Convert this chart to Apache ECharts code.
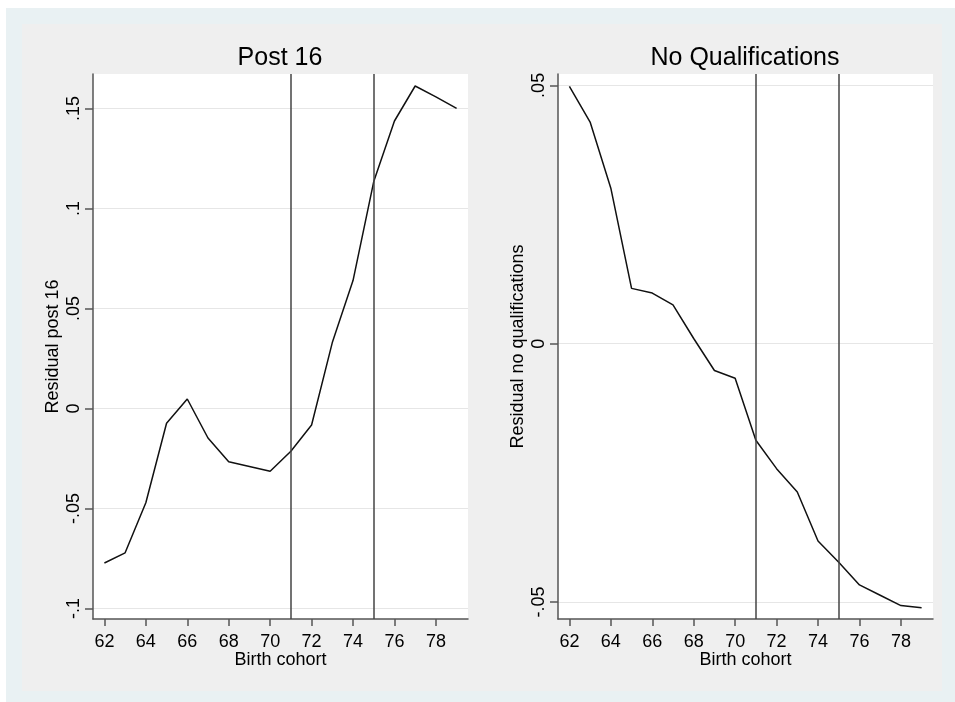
<!doctype html>
<html lang="en">
<head>
<meta charset="UTF-8">
<title>Residual by birth cohort</title>
<script src="https://cdn.jsdelivr.net/npm/echarts@6/dist/echarts.min.js"></script>
<style>
    html, body { margin: 0; padding: 0; background: #fff; }
    /* outer frame + grey graph region */
    #frame { position: absolute; left: 6px; top: 8px; width: 949px; height: 694px; background: #E9F1F3; }
    #panel { position: absolute; left: 22px; top: 24px; width: 920px; height: 667px; background: #EFEFEF; }
    #chart { position: absolute; left: 0; top: 0; width: 955px; height: 702px; }
</style>
</head>
<body>
<div id="frame"></div>
<div id="panel"></div>
<div id="chart"></div>

<script type="text/javascript">
/* data */
const cohorts = [62, 63, 64, 65, 66, 67, 68, 69, 70, 71, 72, 73, 74, 75, 76, 77, 78, 79];
const post16 = [-0.0773, -0.0722, -0.0472, -0.0074, 0.0047, -0.0148, -0.0267, -0.0290, -0.0314,
    -0.0214, -0.0083, 0.0329, 0.0639, 0.1134, 0.1437, 0.1612, 0.1558, 0.1500];
const noQual = [0.0498, 0.0429, 0.0301, 0.0107, 0.0098, 0.0075, 0.0010, -0.0052, -0.0067,
    -0.0187, -0.0242, -0.0287, -0.0382, -0.0423, -0.0467, -0.0487, -0.0507, -0.0511];
const cutoffs = [71, 75];

const xTicks = [62, 64, 66, 68, 70, 72, 74, 76, 78];
const post16Ticks = [-0.1, -0.05, 0, 0.05, 0.1, 0.15];
const post16TickLabels = ['-.1', '-.05', '0', '.05', '.1', '.15'];
const noQualTicks = [-0.05, 0, 0.05];
const noQualTickLabels = ['-.05', '0', '.05'];

const FONT = "'Liberation Sans', Arial, sans-serif";
const AXIS_COLOR = '#555';

let chart = echarts.init(document.getElementById('chart'), null, {renderer: 'canvas'});

function pairs(xs, ys) {
    return xs.map(function (x, i) { return [x, ys[i]]; });
}

function tickLabel(ticks, labels) {
    return function (v) {
        for (let i = 0; i < ticks.length; i++) {
            if (Math.abs(ticks[i] - v) < 1e-9) return labels[i];
        }
        return '';
    };
}

function makeXAxis(idx) {
    return {
        type: 'value',
        gridIndex: idx,
        min: 61.45,
        max: 79.55,
        name: 'Birth cohort',
        nameLocation: 'middle',
        nameGap: 32,
        nameMoveOverlap: false,
        nameTextStyle: {fontSize: 18, color: '#000', fontFamily: FONT},
        axisLine: {show: true, onZero: false, lineStyle: {color: AXIS_COLOR, width: 1.5}},
        axisTick: {show: true, length: 7, customValues: xTicks, lineStyle: {color: AXIS_COLOR, width: 1.5}},
        axisLabel: {customValues: xTicks, fontSize: 18, color: '#000', fontFamily: FONT, margin: 14},
        splitLine: {show: false}
    };
}

function makeYAxis(idx, name, min, max, ticks, labels) {
    return {
        type: 'value',
        gridIndex: idx,
        min: min,
        max: max,
        name: name,
        nameLocation: 'middle',
        nameGap: 31,
        nameMoveOverlap: false,
        nameTextStyle: {fontSize: 18, color: '#000', fontFamily: FONT},
        axisLine: {show: true, onZero: false, lineStyle: {color: AXIS_COLOR, width: 1.5}},
        axisTick: {show: true, length: 8, customValues: ticks, lineStyle: {color: AXIS_COLOR, width: 1.5}},
        axisLabel: {
            customValues: ticks,
            rotate: 90,
            fontSize: 18,
            color: '#000',
            fontFamily: FONT,
            margin: 10,
            formatter: tickLabel(ticks, labels)
        },
        splitLine: {show: true, lineStyle: {color: '#E6E6E6', width: 1.2}}
    };
}

function cutoffLines() {
    return {
        silent: true,
        symbol: 'none',
        label: {show: false},
        lineStyle: {color: '#444', width: 1.5, type: 'solid'},
        data: cutoffs.map(function (c) { return {xAxis: c}; })
    };
}

let option = {
    animation: false,
    backgroundColor: 'transparent',
    textStyle: {fontFamily: FONT},
    title: [
        {text: 'Post 16', left: 280, top: 46, textAlign: 'center', padding: 0,
            textStyle: {fontSize: 25, fontWeight: 'normal', color: '#000', fontFamily: FONT}},
        {text: 'No Qualifications', left: 745, top: 46, textAlign: 'center', padding: 0,
            textStyle: {fontSize: 25, fontWeight: 'normal', color: '#000', fontFamily: FONT}}
    ],
    grid: [
        {left: 93, top: 74, width: 375, height: 545, show: true, backgroundColor: '#fff', borderWidth: 0},
        {left: 558, top: 74, width: 375, height: 545, show: true, backgroundColor: '#fff', borderWidth: 0}
    ],
    xAxis: [makeXAxis(0), makeXAxis(1)],
    yAxis: [
        makeYAxis(0, 'Residual post 16', -0.1053, 0.1672, post16Ticks, post16TickLabels),
        makeYAxis(1, 'Residual no qualifications', -0.0533, 0.0522, noQualTicks, noQualTickLabels)
    ],
    series: [
        {
            name: 'Post 16',
            type: 'line',
            xAxisIndex: 0,
            yAxisIndex: 0,
            data: pairs(cohorts, post16),
            showSymbol: false,
            lineStyle: {color: '#111', width: 1.5},
            markLine: cutoffLines()
        },
        {
            name: 'No Qualifications',
            type: 'line',
            xAxisIndex: 1,
            yAxisIndex: 1,
            data: pairs(cohorts, noQual),
            showSymbol: false,
            lineStyle: {color: '#111', width: 1.5},
            markLine: cutoffLines()
        }
    ]
};
chart.setOption(option);
</script>
</body>
</html>
